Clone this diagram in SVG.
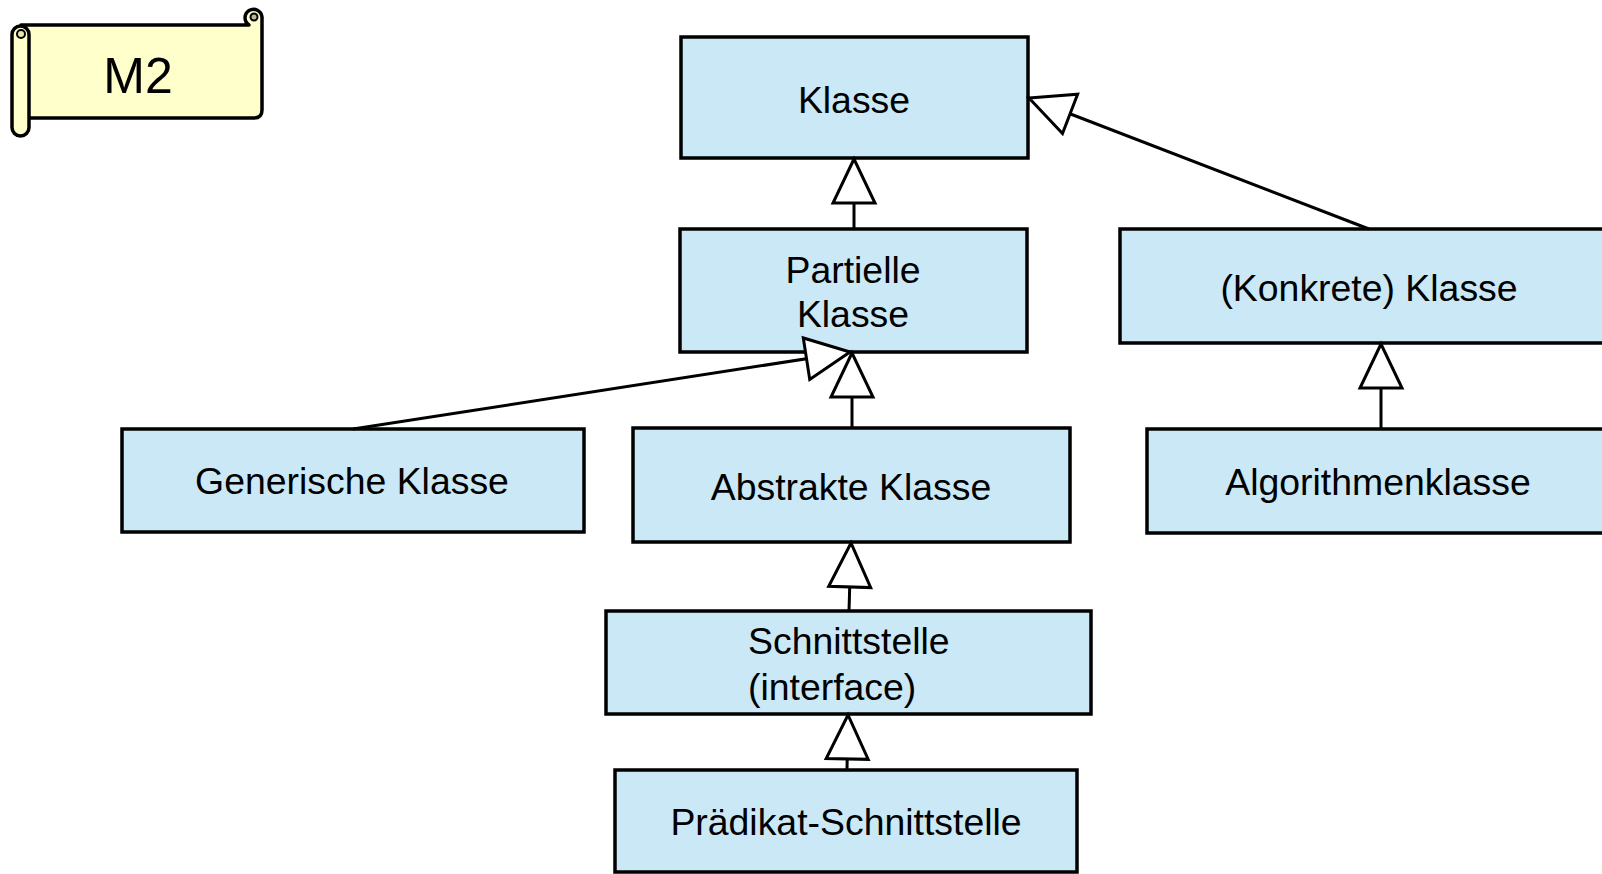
<svg xmlns="http://www.w3.org/2000/svg" width="1602" height="874" viewBox="0 0 1602 874">
  <style>
    .box { fill: #cae8f6; stroke: #000; stroke-width: 3.5; }
    .lbl { font-family: "Liberation Sans", Arial, sans-serif; font-size: 37.4px; fill: #000; }
    .mid { text-anchor: middle; }
    .conn { stroke: #000; stroke-width: 3; fill: none; marker-end: url(#gen); }
    .scroll { fill: #ffffcc; stroke: #000; stroke-width: 3.5; stroke-linejoin: round; }
  </style>
  <defs>
    <marker id="gen" viewBox="0 0 44 42" refX="44" refY="21" markerWidth="44" markerHeight="42" markerUnits="userSpaceOnUse" orient="auto" overflow="visible">
      <path d="M44,21 L0,0 L0,42 Z" fill="#fff" stroke="#000" stroke-width="3" stroke-linejoin="miter"/>
    </marker>
  </defs>
  <rect width="1602" height="874" fill="#fff"/>

  <g id="m2-scroll">
    <path class="scroll" d="M21,25 H249 A8.5,8.5 0 1 1 262,17 V110 Q262,118 254,118 H21 Z"/>
    <circle cx="254" cy="17" r="3.5" fill="#b8b894" stroke="#000" stroke-width="2"/>
    <rect class="scroll" x="12" y="26" width="17" height="110" rx="8.5"/>
    <circle cx="21" cy="34" r="4" fill="#e6e6b0" stroke="#000" stroke-width="2"/>
    <text class="lbl mid" x="138" y="93" style="font-size:50px">M2</text>
  </g>

  <g id="klasse">
    <rect class="box" x="681" y="37" width="347" height="121"/>
    <text class="lbl mid" x="854" y="113">Klasse</text>
  </g>
  <g id="partielle-klasse">
    <rect class="box" x="680" y="229" width="347" height="123"/>
    <text class="lbl mid" x="853" y="283">Partielle</text>
    <text class="lbl mid" x="853" y="327">Klasse</text>
  </g>
  <g id="konkrete-klasse">
    <rect class="box" x="1120" y="229" width="500" height="114"/>
    <text class="lbl mid" x="1369" y="301">(Konkrete) Klasse</text>
  </g>
  <g id="generische-klasse">
    <rect class="box" x="122" y="429" width="462" height="103"/>
    <text class="lbl mid" x="352" y="494">Generische Klasse</text>
  </g>
  <g id="abstrakte-klasse">
    <rect class="box" x="633" y="428" width="437" height="114"/>
    <text class="lbl mid" x="851" y="500">Abstrakte Klasse</text>
  </g>
  <g id="algorithmenklasse">
    <rect class="box" x="1147" y="429" width="480" height="104"/>
    <text class="lbl mid" x="1378" y="495">Algorithmenklasse</text>
  </g>
  <g id="schnittstelle">
    <rect class="box" x="606" y="611" width="485" height="103"/>
    <text class="lbl" x="748" y="654">Schnittstelle</text>
    <text class="lbl" x="748" y="700">(interface)</text>
  </g>
  <g id="praedikat-schnittstelle">
    <rect class="box" x="615" y="770" width="462" height="102"/>
    <text class="lbl mid" x="846" y="835">Prädikat-Schnittstelle</text>
  </g>

  <g id="connectors">
    <line class="conn" x1="854" y1="229" x2="854" y2="159"/>
    <line class="conn" x1="1369" y1="229" x2="1029" y2="98"/>
    <line class="conn" x1="353" y1="429" x2="850" y2="352"/>
    <line class="conn" x1="852" y1="428" x2="852" y2="353"/>
    <line class="conn" x1="1381" y1="429" x2="1381" y2="344"/>
    <line class="conn" x1="849" y1="611" x2="851" y2="543"/>
    <line class="conn" x1="847" y1="770" x2="848" y2="715"/>
  </g>
</svg>
